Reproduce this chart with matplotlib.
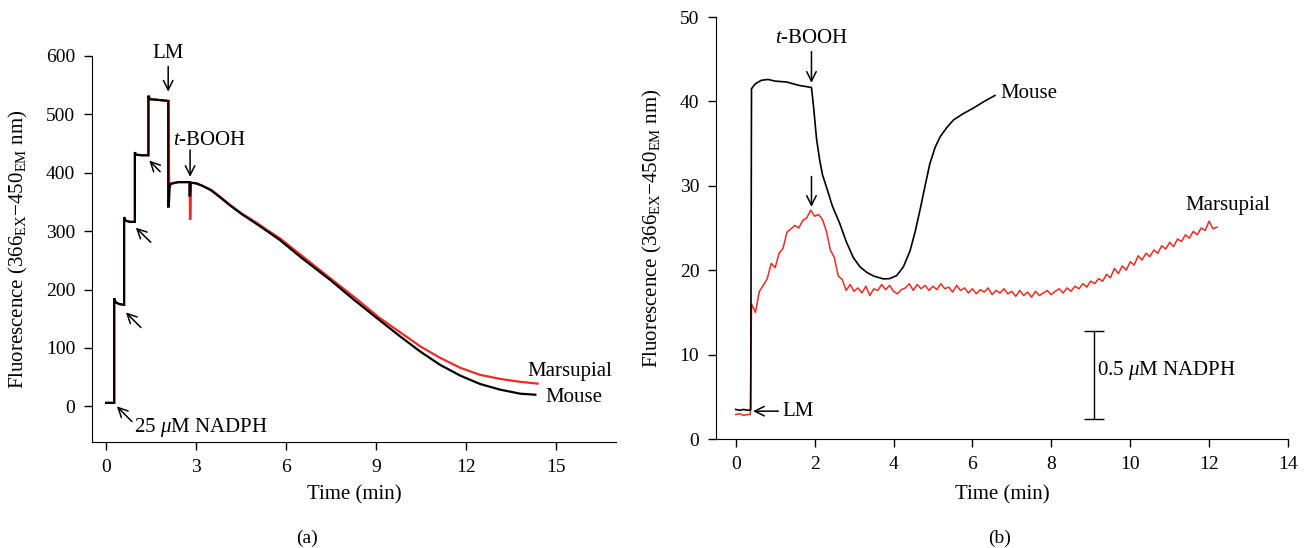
import numpy as np
import matplotlib
matplotlib.use("Agg")
import matplotlib.pyplot as plt

plt.rcParams['font.family'] = ['Liberation Serif', 'DejaVu Serif']
plt.rcParams['mathtext.fontset'] = 'custom'
plt.rcParams['mathtext.rm'] = 'Liberation Serif'
plt.rcParams['mathtext.it'] = 'Liberation Serif:italic'

# ---------------- Panel (a) data ----------------
a_mouse_t = [0, 0.27, 0.27, 0.32, 0.45, 0.60, 0.60, 0.65, 0.80, 0.96, 0.96, 1.00, 1.20, 1.41,
             1.41, 1.46, 1.70, 2.07, 2.07, 2.09, 2.12, 2.16, 2.40, 2.78, 2.78, 2.80, 2.82,
             3.0, 3.2, 3.5, 3.8, 4.11, 4.5, 5.0, 5.4, 5.79, 6.5, 7.46, 8.3, 9.13, 9.80, 10.47,
             11.14, 11.81, 12.47, 13.14, 13.81, 14.31]
a_mouse_v = [6, 6, 185, 178, 175, 174, 324, 318, 316, 316, 435, 431, 430, 430,
             532, 526, 525, 523, 342, 342, 376, 381, 384, 384, 361, 361, 383,
             382, 378, 370, 358, 345, 330, 313, 299, 285, 255, 217, 181, 147, 120, 94,
             71, 52.6, 38.3, 28.6, 21.7, 20]
a_mars_t = [0, 0.27, 0.27, 0.32, 0.45, 0.60, 0.60, 0.65, 0.80, 0.96, 0.96, 1.00, 1.20, 1.41,
            1.41, 1.46, 1.70, 2.09, 2.10, 2.12, 2.16, 2.40, 2.79, 2.80, 2.81, 2.83,
            3.0, 3.2, 3.5, 3.8, 4.11, 4.5, 5.0, 5.4, 5.79, 6.5, 7.46, 8.3, 9.13, 9.80, 10.47,
            11.14, 11.81, 12.47, 13.14, 13.81, 14.39]
a_mars_v = [6, 6, 185, 178, 175, 174, 324, 318, 316, 316, 435, 431, 430, 430,
            532, 526, 525, 523, 381, 381, 382, 384, 384, 321, 321, 383,
            382, 378, 371, 359, 346, 331, 315, 301, 288, 259, 220, 186, 151, 127, 103,
            83, 66, 54, 47, 42, 39]

# ---------------- Panel (b) data ----------------
b_mouse_t = [0, 0.1, 0.2, 0.3, 0.38, 0.40, 0.5, 0.65, 0.82, 1.0, 1.29, 1.6, 1.92, 1.97, 2.05,
             2.13, 2.2, 2.30, 2.45, 2.64, 2.8, 2.98, 3.15, 3.32, 3.5, 3.74, 3.9, 4.08, 4.25,
             4.42, 4.55, 4.67, 4.8, 4.92, 5.05, 5.18, 5.35, 5.52, 5.75, 6.02, 6.3, 6.57]
b_mouse_v = [3.5, 3.4, 3.5, 3.4, 3.45, 41.5, 42.1, 42.5, 42.6, 42.4, 42.3, 41.9, 41.65, 39.5, 35.5,
             33.0, 31.3, 29.85, 27.6, 25.5, 23.4, 21.5, 20.4, 19.75, 19.3, 18.97, 19.0, 19.36, 20.4,
             22.3, 24.6, 27.1, 30.0, 32.6, 34.5, 35.8, 36.9, 37.8, 38.5, 39.2, 40.0, 40.7]

b_mars_t0 = [0, 0.1, 0.2, 0.3, 0.37]
b_mars_v0 = [2.9, 3.0, 2.8, 2.9, 2.9]
b_mars_v = [16.0, 15.0, 17.5, 18.2, 19.0, 20.8, 20.3, 22.0, 22.6, 24.5,
            24.9, 25.3, 25.0, 25.9, 26.2, 27.1, 26.4, 26.6, 26.0, 24.6,
            22.4, 21.5, 19.3, 18.9, 17.6, 18.3, 17.5, 17.9, 17.3, 18.1,
            17.0, 17.8, 17.6, 18.3, 17.7, 18.2, 17.5, 17.2, 17.7, 17.9,
            18.4, 17.6, 18.3, 17.8, 18.2, 17.6, 18.1, 17.7, 18.4, 17.8,
            18.0, 17.4, 18.2, 17.6, 17.9, 17.3, 17.8, 17.2, 17.7, 17.4,
            17.9, 17.1, 17.6, 17.3, 17.8, 17.2, 17.5, 16.9, 17.6, 17.0,
            17.4, 16.8, 17.5, 17.0, 17.3, 17.6, 17.1, 17.5, 17.8, 17.3,
            17.9, 17.5, 18.1, 17.8, 18.4, 18.0, 18.7, 18.4, 19.0, 18.7,
            19.5, 19.1, 20.2, 19.6, 20.5, 20.0, 21.0, 20.6, 21.7, 21.2,
            22.0, 21.6, 22.4, 22.0, 22.9, 22.5, 23.3, 22.8, 23.7, 23.4,
            24.2, 23.8, 24.6, 24.2, 25.0, 24.7, 25.8, 24.9, 25.1]
b_mars_t = list(b_mars_t0) + list(np.round(0.4 + 0.1 * np.arange(len(b_mars_v)), 2))
b_mars_all = list(b_mars_v0) + b_mars_v

a_xticks = [0, 3, 6, 9, 12, 15]
a_yticks = [0, 100, 200, 300, 400, 500, 600]
b_xticks = [0, 2, 4, 6, 8, 10, 12, 14]
b_yticks = [0, 10, 20, 30, 40, 50]

RED = '#ee2a24'
FS = 15
TFS = 14
ylab = 'Fluorescence (366$_{\\mathrm{EX}}$$-$450$_{\\mathrm{EM}}$ nm)'

fig = plt.figure(figsize=(13.07, 5.48), dpi=100)
ax1 = fig.add_axes([92/1307, (548-442)/548, (616-92)/1307, (442-56)/548])
ax2 = fig.add_axes([716/1307, (548-439)/548, (1288-716)/1307, (439-17)/548])

for ax in (ax1, ax2):
    ax.spines['top'].set_visible(False)
    ax.spines['right'].set_visible(False)
    ax.tick_params(direction='out', length=6, width=1, labelsize=TFS)
    ax.tick_params(axis='x', pad=6)
    ax.tick_params(axis='y', pad=6)
    ax.set_xlabel('Time (min)', fontsize=FS)
    ax.set_ylabel(ylab, fontsize=FS)

ax1.xaxis.set_label_coords(0.5, -(485 - 442) / 386)
ax1.yaxis.set_label_coords((30 - 92) / 524, 0.5)
ax2.xaxis.set_label_coords(0.5, -(485 - 439) / 422)
ax2.yaxis.set_label_coords((664 - 716) / 572, 0.5)

# Panel a
ax1.plot(a_mars_t, a_mars_v, color=RED, lw=1.6, solid_joinstyle='miter')
ax1.plot(a_mouse_t, a_mouse_v, color='black', lw=1.6, solid_joinstyle='miter')
ax1.set_xlim(-0.47, 17)
ax1.set_ylim(-61, 600)
ax1.set_xticks(a_xticks)
ax1.set_yticks(a_yticks)

arr = dict(arrowstyle='->', color='black', lw=1.1, shrinkA=0, shrinkB=0, mutation_scale=17)
ax1.annotate('', xy=(0.66, 161), xytext=(1.16, 135), arrowprops=arr)
ax1.annotate('', xy=(0.99, 306), xytext=(1.49, 281), arrowprops=arr)
ax1.annotate('', xy=(1.44, 421), xytext=(1.80, 402), arrowprops=arr)
ax1.annotate('', xy=(0.36, 0), xytext=(0.86, -26), arrowprops=arr)
ax1.text(0.94, -36, '25 $\\mathit{\\mu}$M NADPH', fontsize=FS, ha='left', va='center')
ax1.annotate('', xy=(2.07, 539), xytext=(2.07, 582), arrowprops=arr, annotation_clip=False)
ax1.text(2.07, 604, 'LM', fontsize=FS, ha='center', va='center', clip_on=False)
ax1.annotate('', xy=(2.8, 393), xytext=(2.8, 439), arrowprops=arr)
ax1.text(3.46, 456, '$\\mathit{t}$-BOOH', fontsize=FS, ha='center', va='center')
ax1.text(16.87, 60, 'Marsupial', fontsize=FS, ha='right', va='center', clip_on=False)
ax1.text(14.63, 15, 'Mouse', fontsize=FS, ha='left', va='center')

# Panel b
ax2.plot(b_mars_t, b_mars_all, color=RED, lw=1.1)
ax2.plot(b_mouse_t, b_mouse_v, color='black', lw=1.2)
ax2.set_xlim(-0.5, 14)
ax2.set_ylim(0, 50)
ax2.set_xticks(b_xticks)
ax2.set_yticks(b_yticks)

ax2.annotate('', xy=(1.92, 42.2), xytext=(1.92, 45.9), arrowprops=arr)
ax2.text(1.92, 47.5, '$\\mathit{t}$-BOOH', fontsize=FS, ha='center', va='center')
ax2.annotate('', xy=(1.92, 27.5), xytext=(1.92, 31.1), arrowprops=arr)
ax2.annotate('', xy=(0.44, 3.3), xytext=(1.08, 3.3), arrowprops=arr)
ax2.text(1.19, 3.3, 'LM', fontsize=FS, ha='left', va='center')
ax2.text(6.72, 40.9, 'Mouse', fontsize=FS, ha='left', va='center')
ax2.text(12.47, 27.7, 'Marsupial', fontsize=FS, ha='center', va='center')
ax2.errorbar([9.07], [7.6], yerr=[[5.2], [5.2]], fmt='none', ecolor='black',
             elinewidth=1.0, capsize=7, capthick=1.0)
ax2.text(9.15, 8.1, '0.5 $\\mathit{\\mu}$M NADPH', fontsize=FS, ha='left', va='center')

fig.text(306.7/1307, 1 - 538/548, '(a)', fontsize=TFS, ha='center', va='center')
fig.text(1000/1307, 1 - 538/548, '(b)', fontsize=TFS, ha='center', va='center')

fig.savefig('out.png', dpi=100)
